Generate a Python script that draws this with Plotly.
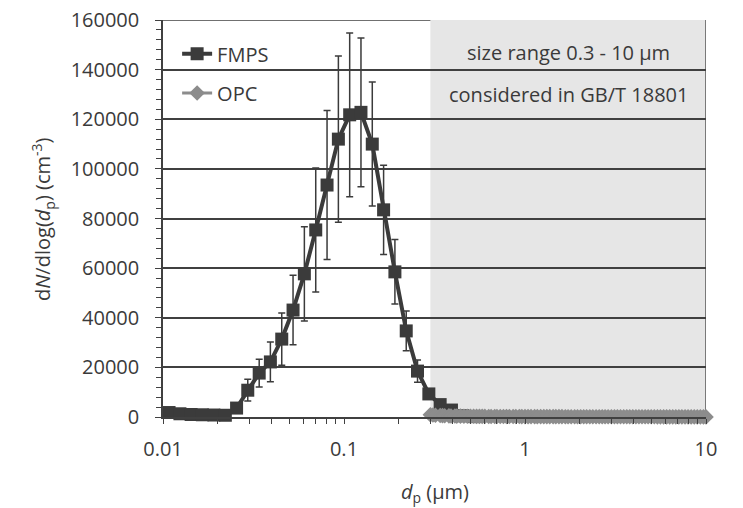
import plotly.graph_objects as go

# ---- data ----
fmps_dp = [0.0108, 0.0124, 0.0143, 0.0165, 0.0191, 0.0221, 0.0255, 0.0294, 0.0340, 0.0392,
           0.0453, 0.0523, 0.0604, 0.0698, 0.0806, 0.0931, 0.1075, 0.1241, 0.1433, 0.1655,
           0.1911, 0.2207, 0.2548, 0.2943, 0.3398, 0.3924, 0.4532, 0.5233]
fmps_val = [1800, 1300, 1000, 900, 800, 700, 3600, 10800, 17700, 22200,
            31400, 43100, 57700, 75400, 93500, 112000, 121800, 122800, 110000, 83500,
            58500, 34700, 18500, 9300, 5000, 2800, 500, 150]
fmps_err = [300, 200, 200, 200, 150, 150, 1500, 4400, 5600, 8000,
            10500, 14000, 19000, 25000, 30000, 33500, 33000, 30000, 25000, 18000,
            13000, 8000, 4500, 2000, 800, 500, 100, 50]

opc_dp = [0.30, 0.31, 0.32, 0.34, 0.35, 0.36, 0.38, 0.39, 0.41, 0.42, 0.44, 0.46, 0.48, 0.50,
          0.52, 0.54, 0.56, 0.58, 0.60, 0.63, 0.65, 0.68, 0.70, 0.73, 0.76, 0.79, 0.82, 0.86,
          0.89, 0.93, 0.96, 1.00, 1.04, 1.08, 1.13, 1.17, 1.22, 1.27, 1.32, 1.37, 1.43, 1.48,
          1.54, 1.60, 1.67, 1.73, 1.80, 1.88, 1.95, 2.03, 2.11, 2.19, 2.28, 2.37, 2.47, 2.57,
          2.67, 2.77, 2.88, 3.00, 3.12, 3.24, 3.37, 3.51, 3.65, 3.79, 3.94, 4.10, 4.26, 4.43,
          4.61, 4.79, 4.98, 5.18, 5.39, 5.60, 5.83, 6.06, 6.30, 6.55, 6.81, 7.08, 7.36, 7.66,
          7.96, 8.28, 8.61, 8.95, 9.31, 9.68, 10.0]
opc_val = [900, 800, 700, 620, 560, 500, 460, 420, 390, 360, 340, 320, 300, 290,
           280, 270, 260, 250, 240, 230, 220, 215, 210, 205, 200, 195, 190, 185,
           180, 175, 170, 165, 160, 155, 150, 148, 146, 144, 142, 140, 138, 136,
           134, 132, 130, 128, 126, 124, 122, 120, 118, 116, 114, 112, 110, 108,
           106, 104, 102, 100, 98, 96, 94, 92, 90, 88, 86, 84, 82, 80,
           78, 76, 74, 72, 70, 68, 66, 64, 62, 60, 58, 56, 54, 52,
           50, 48, 46, 44, 42, 40, 38]

y_ticks = [0, 20000, 40000, 60000, 80000, 100000, 120000, 140000, 160000]
y_tick_text = ["0", "20000", "40000", "60000", "80000", "100000", "120000", "140000", "160000"]
x_ticks = [0.01, 0.1, 1, 10]
x_tick_text = ["0.01", "0.1", "1", "10"]
shade_range = [0.3, 10]
box_text = ["size range 0.3 - 10 µm", "considered in GB/T 18801"]
box_text_y = [147000, 129800]

FONT = "Open Sans"
TXT = "#3a3a3a"
DARK = "#3b3b3b"
GREY = "#8c8c8c"

fig = go.Figure()

fig.add_trace(go.Scatter(
    x=fmps_dp, y=fmps_val, name="FMPS", mode="lines+markers",
    line=dict(color=DARK, width=4),
    marker=dict(symbol="square", size=13, color=DARK),
    error_y=dict(type="data", array=fmps_err, visible=True, color=DARK, thickness=1.5, width=3.5),
    cliponaxis=False, legend="legend", showlegend=True,
))
fig.add_trace(go.Scatter(
    x=opc_dp, y=opc_val, name="OPC", mode="lines+markers",
    line=dict(color=GREY, width=3),
    marker=dict(symbol="diamond", size=12, color=GREY),
    cliponaxis=False, legend="legend2", showlegend=True,
))

# shaded region
fig.add_shape(type="rect", xref="x", yref="y", x0=shade_range[0], x1=shade_range[1],
              y0=0, y1=y_ticks[-1], fillcolor="#e6e6e6", line=dict(width=0), layer="below")
fig.add_shape(type="line", xref="x", yref="y", x0=shade_range[1], x1=shade_range[1],
              y0=0, y1=y_ticks[-1], line=dict(color="#555555", width=1.5), layer="below")
# top gridline
fig.add_shape(type="line", xref="paper", yref="y", x0=0, x1=1, y0=y_ticks[-1], y1=y_ticks[-1],
              line=dict(color="#404040", width=1.5), layer="below")

for t, yv in zip(box_text, box_text_y):
    fig.add_annotation(x=0.2376, y=yv, xref="x", yref="y", text=t, showarrow=False,
                       font=dict(family=FONT, size=20, color=TXT), xanchor="center", yanchor="middle")

# axis titles as annotations
fig.add_annotation(x=-0.222, y=0.5, xref="paper", yref="paper", textangle=-90,
                   text="d<i>N</i>/dlog(<i>d</i><sub>p</sub>) (cm<sup>-3</sup>)", showarrow=False,
                   font=dict(family=FONT, size=20, color=TXT), xanchor="center", yanchor="middle")
fig.add_annotation(x=0.5, y=-0.189, xref="paper", yref="paper",
                   text="<i>d</i><sub>p</sub> (µm)", showarrow=False,
                   font=dict(family=FONT, size=20, color=TXT), xanchor="center", yanchor="middle")

fig.update_layout(
    width=743, height=508,
    margin=dict(l=163, r=37, t=20, b=91, autoexpand=False),
    paper_bgcolor="white", plot_bgcolor="white",
    showlegend=True,
    font=dict(family=FONT, size=20, color=TXT),
    legend=dict(x=0.026, y=0.915, xanchor="left", yanchor="middle", bgcolor="rgba(0,0,0,0)",
                font=dict(family=FONT, size=20, color=TXT)),
    legend2=dict(x=0.026, y=0.816, xanchor="left", yanchor="middle", bgcolor="rgba(0,0,0,0)",
                 font=dict(family=FONT, size=20, color=TXT)),
    xaxis=dict(type="log", range=[-2, 1], tickvals=x_ticks, ticktext=x_tick_text, automargin=False,
               showgrid=False, zeroline=False, showline=True, linecolor="#404040", linewidth=1.5,
               ticks="outside", ticklen=5, tickcolor="#404040", tickwidth=1.2,
               minor=dict(ticks="outside", ticklen=5, tickcolor="#404040", tickwidth=1.2, dtick="D1", showgrid=False),
               ticklabelstandoff=8, tickfont=dict(family=FONT, size=20, color=TXT)),
    yaxis=dict(range=[0, 160020], tickvals=y_ticks, ticktext=y_tick_text, showgrid=True, automargin=False,
               gridcolor="#404040", gridwidth=1.5,
               zeroline=False, showline=True, linecolor="#404040", linewidth=1.5,
               ticks="outside", ticklen=6, tickcolor="#404040", tickwidth=1.2,
               minor=dict(ticks="outside", ticklen=5, tickcolor="#404040", tickwidth=1.2, dtick=4000, showgrid=False),
               ticklabelstandoff=12, tickfont=dict(family=FONT, size=20, color=TXT)),
)

# remove the default page margin so the figure fills the window exactly
fig.write_html("out.html", config={"displayModeBar": False},
               post_script="document.body.style.margin='0';")
